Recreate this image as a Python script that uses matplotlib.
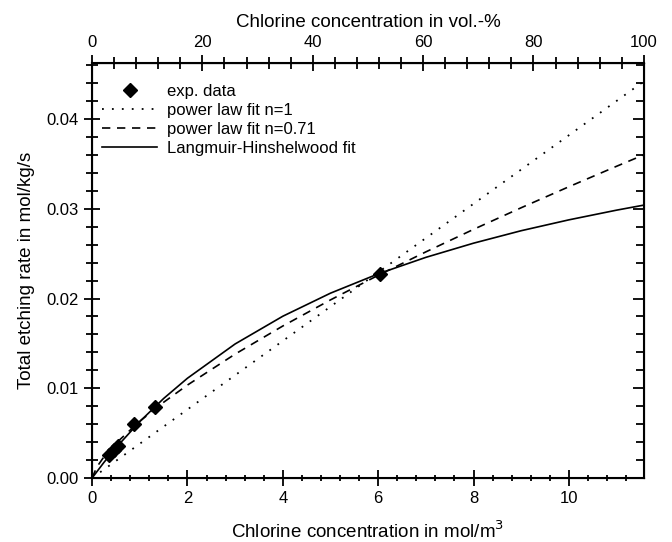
import numpy as np
import matplotlib.pyplot as plt
from matplotlib.ticker import MultipleLocator, FixedLocator

plt.rcParams['font.family'] = ['Liberation Sans', 'DejaVu Sans']

# experimental points
exp_x = [0.36, 0.45, 0.55, 0.87, 1.33, 6.03]
exp_y = [0.0026, 0.0031, 0.0036, 0.0060, 0.0079, 0.0227]

# power law fit n=1
lin_x = [0.0, 2.0, 4.0, 6.0, 8.0, 10.0, 11.57]
lin_y = [0.0, 0.00764, 0.01528, 0.02292, 0.03056, 0.0382, 0.0442]

# power law fit n=0.71
pw_x = [0.0, 0.1, 0.25, 0.5, 1.0, 1.5, 2.0, 3.0, 4.0, 5.0, 6.0, 7.0, 8.0, 9.0, 10.0, 11.0, 11.57]
pw_y = [0.0, 0.00123, 0.00237, 0.00387, 0.00633, 0.00844, 0.01036, 0.01381, 0.01694,
        0.01985, 0.02259, 0.02520, 0.02771, 0.03012, 0.03246, 0.03474, 0.03601]

# Langmuir-Hinshelwood fit
lh_x = [0.0, 0.25, 0.5, 1.0, 1.5, 2.0, 3.0, 4.0, 5.0, 6.0, 7.0, 8.0, 9.0, 10.0, 11.0, 11.57]
lh_y = [0.0, 0.00175, 0.00337, 0.00629, 0.00886, 0.01112, 0.01494, 0.01803, 0.02060,
        0.02275, 0.02459, 0.02617, 0.02756, 0.02877, 0.02985, 0.03041]

x_max = 11.57   # mol/m3 at 100 vol.-%
y_max = 0.0462
top_major = [0, 20, 40, 60, 80, 100]
top_minor = [p for p in range(4, 100, 4) if p % 20]

fig = plt.figure(figsize=(6.72, 5.42), dpi=100)
ax = fig.add_axes([0.137, 0.118, 0.821, 0.765])

ax.plot(exp_x, exp_y, 'D', color='black', markersize=7, label='exp. data', zorder=5)
ax.plot(lin_x, lin_y, linestyle=(0, (1, 4.5)), color='black', lw=1.3, label='power law fit n=1')
ax.plot(pw_x, pw_y, linestyle=(0, (5, 4)), color='black', lw=1.2, label='power law fit n=0.71')
ax.plot(lh_x, lh_y, '-', color='black', lw=1.2, label='Langmuir-Hinshelwood fit')

ax.set_xlim(0, x_max)
ax.set_ylim(0, y_max)
ax.xaxis.set_major_locator(MultipleLocator(2))
ax.xaxis.set_minor_locator(MultipleLocator(0.4))
ax.yaxis.set_major_locator(MultipleLocator(0.01))
ax.yaxis.set_minor_locator(MultipleLocator(0.002))
ax.yaxis.set_major_formatter(plt.FuncFormatter(lambda v, p: f'{v:.2f}'))

for s in ax.spines.values():
    s.set_linewidth(1.5)

ax.tick_params(axis='both', which='both', direction='inout', width=1.3, labelsize=12,
               right=False, top=False)
ax.tick_params(which='major', length=12)
ax.tick_params(axis='x', which='minor', length=5)
ax.tick_params(axis='y', which='minor', length=8)

# right side: inward ticks only
rax = ax.twinx()
rax.set_ylim(0, y_max)
rax.yaxis.set_major_locator(MultipleLocator(0.01))
rax.yaxis.set_minor_locator(MultipleLocator(0.002))
rax.tick_params(which='both', direction='in', width=1.3, labelright=False)
rax.tick_params(which='major', length=8)
rax.tick_params(which='minor', length=6)

ax.set_xlabel('Chlorine concentration in mol/m$^3$', fontsize=13.5, labelpad=10)
ax.set_ylabel('Total etching rate in mol/kg/s', fontsize=13.5, labelpad=8)

top = ax.secondary_xaxis('top', functions=(lambda x: x * 100 / x_max,
                                           lambda p: p * x_max / 100))
top.xaxis.set_major_locator(FixedLocator(top_major))
top.xaxis.set_minor_locator(FixedLocator(top_minor))
top.tick_params(which='both', direction='inout', width=1.3, labelsize=12)
top.tick_params(which='major', length=12)
top.tick_params(which='minor', length=9)
top.set_xlabel('Chlorine concentration in vol.-%', fontsize=13.5, labelpad=6)

ax.legend(loc='upper left', frameon=False, fontsize=12, handlelength=3.3,
          handletextpad=0.6, borderaxespad=0.2,
          bbox_to_anchor=(0.0, 0.975), labelspacing=0.25)

fig.savefig('out.png', dpi=100)
